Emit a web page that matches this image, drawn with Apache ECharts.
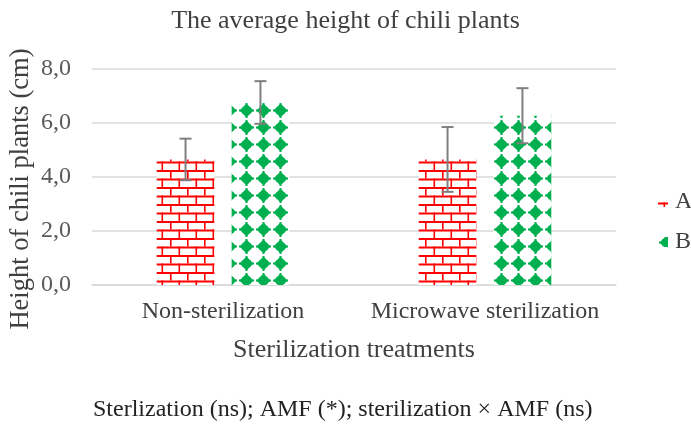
<!DOCTYPE html>
<html><head><meta charset="utf-8">
<script src="https://cdn.jsdelivr.net/npm/echarts@6/dist/echarts.min.js"></script>
<style>html,body{margin:0;padding:0;background:#fff}#c{width:691px;height:425px}</style>
</head><body><div id="c"></div>
<script>
var categories = ['Non-sterilization', 'Microwave sterilization'];
var seriesNames = ['A', 'B'];
var valuesA = [4.65, 4.65];
var errorsA = [0.77, 1.2];
var valuesB = [6.76, 6.27];
var errorsB = [0.79, 1.02];
var yTicks = [0, 2, 4, 6, 8];

var FONT = "'Liberation Serif', 'DejaVu Serif', serif";
var RED = '#FF0000', GREEN = '#00B050';

function brickTile() {
  var c = document.createElement('canvas'); c.width = 17; c.height = 17;
  var g = c.getContext('2d');
  g.fillStyle = '#fff'; g.fillRect(0, 0, 17, 17);
  g.fillStyle = RED;
  g.fillRect(0, 0, 17, 2);
  g.fillRect(0, 8.5, 17, 2);
  g.fillRect(0, 0, 1.6, 8.5);
  g.fillRect(8.5, 8.5, 1.6, 8.5);
  return c;
}
function diamondTile() {
  var c = document.createElement('canvas'); c.width = 17; c.height = 17;
  var g = c.getContext('2d');
  g.fillStyle = '#fff'; g.fillRect(0, 0, 17, 17);
  g.fillStyle = GREEN;
  var cx = 8.5, cy = 8.5, r = 7;
  g.beginPath(); g.moveTo(cx, cy - r); g.lineTo(cx + r, cy); g.lineTo(cx, cy + r); g.lineTo(cx - r, cy); g.closePath(); g.fill();
  g.fillRect(cx - 4, cy - 3.5, 8, 7);
  g.fillRect(cx - 1, 1, 2, 15);
  g.fillRect(1, cy - 1, 15, 2);
  return c;
}
var bt = brickTile(), dt = diamondTile();
function iconURL(tile, ox, oy) {
  var c = document.createElement('canvas'); c.width = 10; c.height = 10;
  var g = c.getContext('2d'); g.drawImage(tile, -ox, -oy); return c.toDataURL();
}

var chart = echarts.init(document.getElementById('c'));
var BW = 0.22, GAP = 0.3;
function errSeries(vals, errs, sign) {
  return {
    type: 'custom', z: 10, silent: true,
    data: vals.map(function (v, i) { return [i, v, errs[i]]; }),
    renderItem: function (params, api) {
      var i = api.value(0), v = api.value(1), e = api.value(2);
      var catW = api.size([1, 0])[0];
      var bw = catW * BW, off = sign * (bw + bw * GAP) / 2;
      var top = api.coord([i, v + e]), bot = api.coord([i, v - e]);
      var x = top[0] + off, cap = 6;
      var st = { stroke: '#7F7F7F', lineWidth: 2 };
      return { type: 'group', children: [
        { type: 'line', shape: { x1: x, y1: top[1], x2: x, y2: bot[1] }, style: st },
        { type: 'line', shape: { x1: x - cap, y1: top[1], x2: x + cap, y2: top[1] }, style: st },
        { type: 'line', shape: { x1: x - cap, y1: bot[1], x2: x + cap, y2: bot[1] }, style: st }
      ]};
    }
  };
}

chart.setOption({
  animation: false,
  textStyle: { fontFamily: FONT },
  title: { text: 'The average height of chili plants', left: 'center', top: 3,
    textStyle: { fontFamily: FONT, fontSize: 26, fontWeight: 'normal', color: '#404040' } },
  grid: { left: 92, right: 75, top: 69, bottom: 140 },
  legend: {
    orient: 'vertical', left: 653, top: 185, itemGap: 16, itemWidth: 10, itemHeight: 10,
    textStyle: { fontFamily: FONT, fontSize: 24, color: '#404040', padding: [0, 0, 0, 2] },
    data: [
      { name: 'A', icon: 'image://' + iconURL(bt, 3, 3) },
      { name: 'B', icon: 'image://' + iconURL(dt, 0, 3) }
    ]
  },
  xAxis: {
    type: 'category', data: categories,
    axisLine: { lineStyle: { color: '#D9D9D9', width: 1.5 } },
    axisTick: { show: false },
    axisLabel: { interval: 0, hideOverlap: false, fontFamily: FONT, fontSize: 24, color: '#404040', margin: 15 },
    name: 'Sterilization treatments', nameLocation: 'middle', nameGap: 52,
    nameTextStyle: { fontFamily: FONT, fontSize: 26, color: '#404040' }
  },
  yAxis: {
    type: 'value', min: yTicks[0], max: yTicks[yTicks.length - 1], interval: 2,
    axisLine: { show: false }, axisTick: { show: false },
    splitLine: { lineStyle: { color: '#D9D9D9', width: 1.5 } },
    axisLabel: { fontFamily: FONT, fontSize: 24, color: '#595959', margin: 21,
      formatter: function (v) { return v.toFixed(1).replace('.', ','); } }
  },
  graphic: [{
    type: 'text', x: 21, y: 189, rotation: Math.PI / 2,
    style: { text: 'Height of chili plants (cm)', fontFamily: FONT, fontSize: 26.5, fill: '#404040',
      align: 'center', verticalAlign: 'middle' }
  }, {
    type: 'text', left: 93, top: 398,
    style: { text: 'Sterlization (ns); AMF (*); sterilization \u00D7 AMF (ns)', fontFamily: FONT, fontSize: 24, fill: '#222' }
  }],
  series: [
    { name: 'A', type: 'bar', data: valuesA, barWidth: (BW * 100) + '%', barGap: (GAP * 100) + '%',
      itemStyle: { color: { image: bt, repeat: 'repeat' } } },
    { name: 'B', type: 'bar', data: valuesB, barWidth: (BW * 100) + '%',
      itemStyle: { color: { image: dt, repeat: 'repeat' } } },
    errSeries(valuesA, errorsA, -1),
    errSeries(valuesB, errorsB, 1)
  ]
});
</script>
</body></html>
